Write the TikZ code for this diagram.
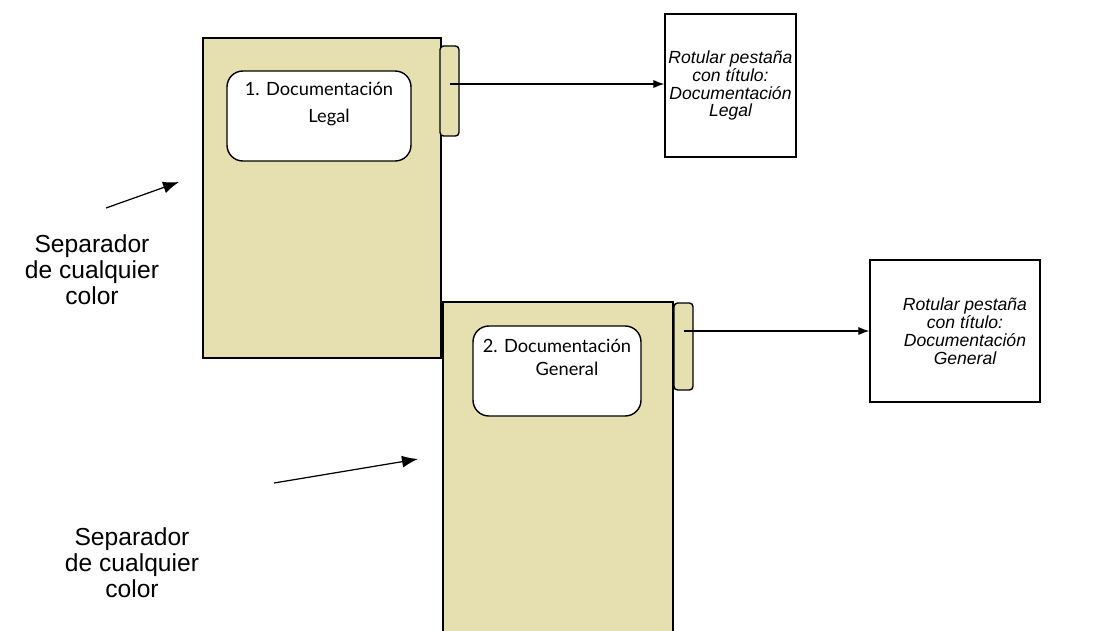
\documentclass[tikz,border=0pt]{standalone}
\usepackage{fontspec}
\setmainfont{Liberation Sans}
\newfontfamily\handfont{Lato}
\usetikzlibrary{arrows.meta}

\definecolor{folder_khaki}{RGB}{230,224,176}

\begin{document}
\begin{tikzpicture}[x=0.02cm,y=-0.02cm]
        \tikzset{
            folder/.style={
                draw=black,
                fill=folder_khaki,
                line width=1pt,
                inner sep=0pt,
                minimum width=#1
            },
            tab/.style={
                draw=black,
                fill=folder_khaki,
                rounded corners=2pt,
                line width=0.8pt,
                inner sep=0pt,
                minimum width=0.38cm,
                minimum height=#1
            },
            rotulo/.style={
                draw=black,
                fill=white,
                rounded corners=9pt,
                line width=0.8pt,
                minimum width=#1,
                minimum height=1.8cm,
                inner sep=0pt
            },
            nota/.style={
                draw=black,
                line width=0.8pt,
                inner sep=0pt
            },
            notatxt/.style={
                align=center,
                font=\itshape\fontsize{10}{10.2}\selectfont
            },
            separador/.style={
                align=center,
                font=\fontsize{14}{14.7}\selectfont
            },
            flecha/.style={
                -{Latex[length=#1]},
                line width=0.7pt
            }
        }
        \useasboundingbox (0,0) rectangle (1103,630);

        % carpetas
        \node[folder=4.76cm, minimum height=6.4cm] (carpeta1) at (322,198) {};
        \node[folder=4.6cm, minimum height=7cm] (carpeta2) at (558,477) {};

        % pestanas
        \node[tab=1.8cm] (pest1) at (449.5,91) {};
        \node[tab=1.74cm] (pest2) at (683.5,346.5) {};

        % rotulos
        \node[rotulo=3.68cm] (rot1) at (319,116) {};
        \node[rotulo=3.36cm] (rot2) at (557,371) {};
        \node[align=center, font=\handfont\fontsize{10.4}{15.3}\selectfont,
              anchor=north] (txt1) at (rot1.north) [yshift=-0.12cm]
              {1. Documentación\\\hspace*{1.1em}Legal};
        \node[align=center, font=\handfont\fontsize{10.4}{13}\selectfont,
              anchor=north] (txt2) at (rot2.north) [yshift=-0.16cm]
              {2. Documentación\\\hspace*{1.1em}General};

        % cajas de texto
        \node[nota, minimum width=2.62cm, minimum height=2.86cm] (caja1) at (730.5,85.5) {};
        \node[nota, minimum width=3.4cm, minimum height=2.84cm] (caja2) at (955,331) {};
        \node[notatxt] (txtcaja1) at (caja1.center)
              {Rotular pestaña\\con título:\\Documentación\\Legal};
        \node[notatxt] (txtcaja2) at ([xshift=0.2cm]caja2.center)
              {Rotular pestaña\\con título:\\Documentación\\General};

        \draw[flecha=2.2mm] (pest1.center |- 0,84) -- (caja1.west |- 0,84);
        \draw[flecha=2.2mm] (pest2.center |- 0,331) -- (caja2.west |- 0,331);

        % separadores
        \node[separador] (sep1) at (92,270) {Separador\\de cualquier\\color};
        \node[separador] (sep2) at (132,563) {Separador\\de cualquier\\color};

        \coordinate (ini1) at (106,208);
        \coordinate (fin1) at (179,182);
        \coordinate (ini2) at (274,483);
        \coordinate (fin2) at (418,459);
        \draw[flecha=3.2mm] (ini1) -- (fin1);
        \draw[flecha=3.2mm] (ini2) -- (fin2);

\end{tikzpicture}
\end{document}
